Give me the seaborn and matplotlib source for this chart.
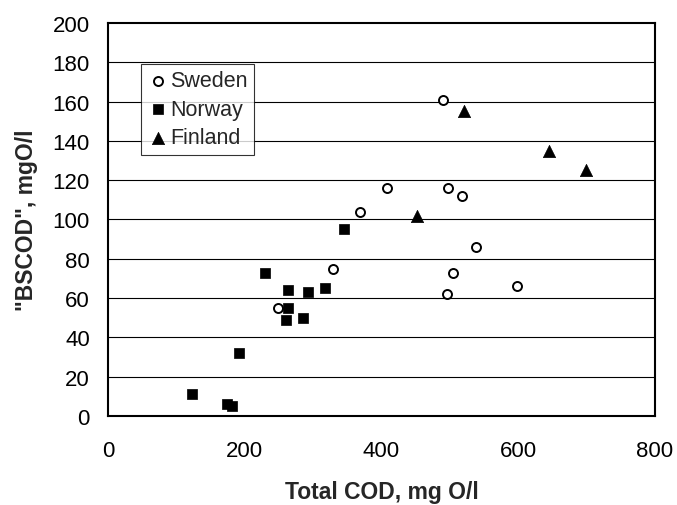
import matplotlib
matplotlib.use("Agg")
import matplotlib.pyplot as plt
import seaborn as sns
import pandas as pd

# Total COD (x) and "BSCOD" (y), mg O/l
sweden_x = [490, 408, 497, 518, 369, 538, 329, 505, 496, 598, 248]
sweden_y = [161, 116, 116, 112, 104, 86, 75, 73, 62, 66, 55]

norway_x = [123, 174, 182, 191, 229, 264, 264, 261, 285, 293, 318, 345]
norway_y = [11, 6, 5, 32, 73, 64, 55, 49, 50, 63, 65, 95]

finland_x = [520, 645, 699, 452]
finland_y = [155, 135, 125, 102]

x_ticks = [0, 200, 400, 600, 800]
y_ticks = list(range(0, 201, 20))

sns.set_style("white")
plt.rcParams['font.family'] = ['Liberation Sans', 'DejaVu Sans']

fig = plt.figure(figsize=(6.77, 5.06), dpi=100)
ax = fig.add_axes([0.1595, 0.1759, 0.808, 0.7767])

# horizontal gridlines
for y in y_ticks[1:-1]:
    ax.axhline(y, color="black", lw=0.8, zorder=0)

sw = pd.DataFrame({"x": sweden_x, "y": sweden_y})
no = pd.DataFrame({"x": norway_x, "y": norway_y})
fi = pd.DataFrame({"x": finland_x, "y": finland_y})

sns.scatterplot(data=sw, x="x", y="y", ax=ax, marker="o", s=42,
                facecolor="white", edgecolor="black", linewidth=1.4,
                label="Sweden", zorder=3)
sns.scatterplot(data=no, x="x", y="y", ax=ax, marker="s", s=52,
                color="black", edgecolor="black", linewidth=0.5,
                label="Norway", zorder=3)
sns.scatterplot(data=fi, x="x", y="y", ax=ax, marker="^", s=78,
                color="black", edgecolor="black", linewidth=0.5,
                label="Finland", zorder=3)

ax.set_xlim(0, 800)
ax.set_ylim(0, 200)
ax.set_xticks(x_ticks)
ax.set_yticks(y_ticks)
ax.tick_params(axis="both", direction="out", length=5, width=1.2,
               color="black", labelsize=16, labelcolor="black")
ax.tick_params(axis="x", pad=12)
ax.tick_params(axis="y", pad=8)

for sp in ax.spines.values():
    sp.set_visible(True)
    sp.set_color("black")
    sp.set_linewidth(1.5)

ax.set_xlabel("Total COD, mg O/l", fontsize=16.5, fontweight="bold")
ax.set_ylabel('"BSCOD", mgO/l', fontsize=16.5, fontweight="bold")
ax.xaxis.set_label_coords(0.5, -0.163)
ax.yaxis.set_label_coords(-0.128, 0.5)

leg = ax.legend(loc="upper left", bbox_to_anchor=(0.06, 0.896), fontsize=15.5,
                frameon=True, fancybox=False, shadow=False, handletextpad=0.05,
                borderpad=0.3, labelspacing=0.35, handlelength=1.0,
                borderaxespad=0)
leg.get_frame().set_edgecolor("black")
leg.get_frame().set_linewidth(0.8)

fig.savefig("out.png", dpi=100)
